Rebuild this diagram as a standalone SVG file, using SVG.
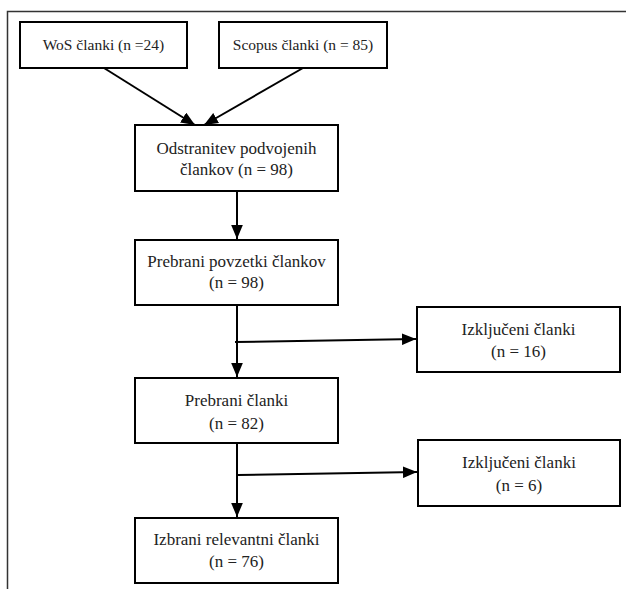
<svg xmlns="http://www.w3.org/2000/svg" width="626" height="589" viewBox="0 0 626 589">
<style>
.box{fill:#fff;stroke:#000;stroke-width:2}
.t{font-family:'Liberation Serif','DejaVu Serif',serif;font-size:17px;fill:#222;text-anchor:middle}
.s{font-size:15.5px}
.c{stroke:#000;stroke-width:2;fill:none}
</style>
<defs>
<marker id="ah" viewBox="0 0 12 10" refX="12" refY="5" markerWidth="7" markerHeight="6" markerUnits="strokeWidth" orient="auto">
<path d="M0,0 L12,5 L0,10 z" fill="#000"/>
</marker>
</defs>
<rect width="626" height="589" fill="#fff"/>
<g id="frame"><path d="M7.5,589 V11.5 H626" stroke="#333" stroke-width="1.5" fill="none"/></g>
<g id="connectors">
<line class="c" x1="104" y1="68" x2="195" y2="125" marker-end="url(#ah)"/>
<line class="c" x1="303" y1="68" x2="204" y2="125" marker-end="url(#ah)"/>
<line class="c" x1="237" y1="191" x2="237" y2="239" marker-end="url(#ah)"/>
<line class="c" x1="237" y1="305" x2="237" y2="377" marker-end="url(#ah)"/>
<line class="c" x1="235" y1="342" x2="416" y2="339" marker-end="url(#ah)"/>
<line class="c" x1="237" y1="443" x2="237" y2="517" marker-end="url(#ah)"/>
<line class="c" x1="238" y1="475" x2="417" y2="472" marker-end="url(#ah)"/>
</g>
<g id="wos"><rect class="box" x="20" y="22" width="167" height="46"/><text class="t s" x="103.5" y="50">WoS članki (n =24)</text></g>
<g id="scopus"><rect class="box" x="219" y="22" width="168" height="46"/><text class="t s" x="303" y="50">Scopus članki (n = 85)</text></g>
<g id="odstranitev"><rect class="box" x="135" y="125" width="203" height="66"/><text class="t" x="236.5" y="154">Odstranitev podvojenih</text><text class="t" x="236.5" y="175">člankov  (n = 98)</text></g>
<g id="povzetki"><rect class="box" x="135" y="240" width="203" height="65"/><text class="t" x="236.5" y="267">Prebrani povzetki člankov</text><text class="t" x="236.5" y="288">(n = 98)</text></g>
<g id="izkljuceni1"><rect class="box" x="417" y="307" width="203" height="65"/><text class="t" x="518.5" y="335">Izključeni članki</text><text class="t" x="518.5" y="357">(n = 16)</text></g>
<g id="prebrani"><rect class="box" x="135" y="378" width="203" height="65"/><text class="t" x="236.5" y="406">Prebrani članki</text><text class="t" x="236.5" y="429">(n = 82)</text></g>
<g id="izkljuceni2"><rect class="box" x="418" y="440" width="202" height="66"/><text class="t" x="519" y="468">Izključeni članki</text><text class="t" x="519" y="491">(n = 6)</text></g>
<g id="izbrani"><rect class="box" x="135" y="518" width="203" height="65"/><text class="t" x="236.5" y="545">Izbrani relevantni članki</text><text class="t" x="236.5" y="567">(n = 76)</text></g>
</svg>
